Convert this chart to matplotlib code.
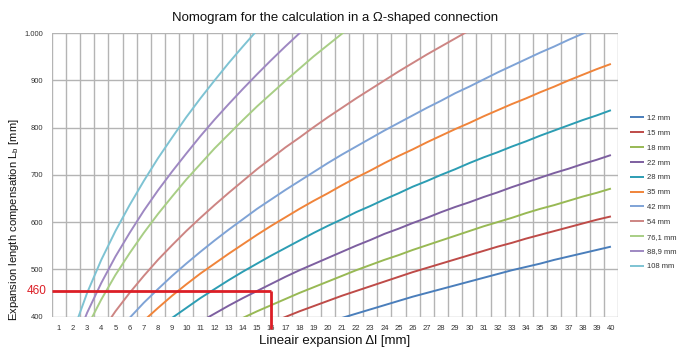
import matplotlib
matplotlib.use("Agg")
import matplotlib.pyplot as plt
from matplotlib import font_manager as fm

names = {f.name for f in fm.fontManager.ttflist}
FAM = ['Liberation Sans Narrow', 'Liberation Sans', 'DejaVu Sans'] if 'Liberation Sans Narrow' in names else ['Liberation Sans', 'DejaVu Sans']
plt.rcParams['font.family'] = FAM

# ---- data ----
x_ticks = list(range(1, 41))
y_ticks = [400, 500, 600, 700, 800, 900, 1000]
y_tick_labels = ["400", "500", "600", "700", "800", "900", "1.000"]

labels = ["12 mm", "15 mm", "18 mm", "22 mm", "28 mm", "35 mm", "42 mm",
          "54 mm", "76,1 mm", "88,9 mm", "108 mm"]
colors = ["#4A7EBB", "#BE4B48", "#98B954", "#7D5FA0", "#2C9DB3", "#F0843A",
          "#7FA3D6", "#CD8583", "#A8CE85", "#9E88C2", "#7EC3D3"]

# first x value of each series, then the values at consecutive integer x
start_12 = 20
vals_12 = [387, 397, 406, 415, 424, 433, 442, 450, 458, 466, 474, 482, 490, 498,
           505, 512, 520, 527, 534, 541, 548]
start_15 = 16
vals_15 = [387, 399, 411, 422, 433, 444, 454, 464, 474, 484, 494, 503, 512, 521,
           530, 539, 548, 556, 565, 573, 581, 589, 597, 605, 612]
start_18 = 13
vals_18 = [382, 397, 411, 424, 437, 450, 462, 474, 486, 498, 509, 520, 530, 541,
           551, 561, 571, 581, 591, 600, 609, 619, 628, 636, 645, 654, 662, 671]
start_22 = 11
vals_22 = [389, 406, 423, 439, 454, 469, 484, 498, 511, 524, 537, 550, 562, 575,
           586, 598, 609, 621, 632, 642, 653, 663, 674, 684, 694, 704, 713, 723,
           732, 742]
start_28 = 8
vals_28 = [374, 397, 418, 439, 458, 477, 495, 512, 529, 545, 561, 577, 592, 606,
           621, 634, 648, 661, 675, 687, 700, 712, 725, 737, 748, 760, 771, 783,
           794, 805, 816, 826, 837]
start_35 = 6
vals_35 = [362, 391, 418, 444, 468, 491, 512, 533, 553, 573, 592, 610, 628, 645,
           661, 678, 694, 709, 725, 740, 754, 769, 783, 797, 810, 824, 837, 850,
           862, 875, 887, 900, 912, 924, 935]
start_42 = 5
vals_42 = [362, 397, 429, 458, 486, 512, 537, 561, 584, 606, 628, 648, 668, 687,
           706, 725, 743, 760, 777, 794, 810, 826, 842, 857, 873, 887, 902, 917,
           931, 945, 959, 972, 986, 999, 1012, 1025]
start_54 = 4
vals_54 = [367, 411, 450, 486, 520, 551, 581, 609, 636, 662, 687, 712, 735, 758,
           779, 801, 822, 842, 862, 881, 900, 919, 937, 955, 972, 989, 1006, 1023]
start_76 = 2
vals_76 = [308, 378, 436, 488, 534, 577, 617, 654, 690, 723, 756, 786, 816, 845,
           872, 899, 925, 951, 975, 999, 1023]
start_89 = 2
vals_89 = [333, 408, 471, 527, 577, 624, 667, 707, 745, 782, 817, 850, 882, 913,
           943, 972, 1000, 1028]
start_108 = 2
vals_108 = [367, 450, 520, 581, 636, 687, 735, 779, 822, 862, 900, 937, 972,
            1006, 1039]

starts = [start_12, start_15, start_18, start_22, start_28, start_35, start_42,
          start_54, start_76, start_89, start_108]
series = [vals_12, vals_15, vals_18, vals_22, vals_28, vals_35, vals_42,
          vals_54, vals_76, vals_89, vals_108]

mark_x = 16
mark_y = 453
mark_label = "460"

# ---- figure ----
fig = plt.figure(figsize=(6.78, 3.5), dpi=100)
ax = fig.add_axes([0.0763, 0.0957, 0.9115 - 0.0763, 0.905 - 0.0957])
ax.set_xlim(0.5, 40.5)
ax.set_ylim(400, 1000)

grid_c = "#B4B4B4"
for gx in range(0, 41):
    ax.axvline(gx + 0.5, color=grid_c, lw=1.0, zorder=1)
for gy in y_ticks:
    ax.axhline(gy, color=grid_c, lw=1.0, zorder=1)
for s in ax.spines.values():
    s.set_visible(False)

for st, v, c, lab in zip(starts, series, colors, labels):
    xs = list(range(st, st + len(v)))
    ax.plot(xs, v, color=c, lw=1.4, label=lab, zorder=3, solid_capstyle='butt')

ax.set_xticks(x_ticks)
ax.set_xticklabels([str(t) for t in x_ticks])
ax.set_yticks(y_ticks)
ax.set_yticklabels(y_tick_labels)
ax.tick_params(axis='both', length=0, labelsize=5.5, colors="#333333")
ax.tick_params(axis='x', pad=6)
ax.tick_params(axis='y', pad=6)

# red marker lines
red = "#DC1E26"
ax.plot([0.5, mark_x], [mark_y, mark_y], color=red, lw=2.0, zorder=4,
        solid_capstyle='butt', clip_on=False)
ax.plot([mark_x, mark_x], [mark_y + 2, 374], color=red, lw=2.0, zorder=4,
        solid_capstyle='butt', clip_on=False)
ax.text(0.17, mark_y, mark_label, color=red, fontsize=8.5, ha='right',
        va='center', transform=ax.transData, clip_on=False)

ax.set_title("Nomogram for the calculation in a \u03a9-shaped connection",
             fontsize=9.5, pad=9, color="#111111")
ax.set_xlabel("Lineair expansion \u0394l [mm]", fontsize=9.5, labelpad=2,
              color="#111111")
ax.set_ylabel("Expansion length compensation L$_\\mathregular{b}$ [mm]",
              fontsize=8.1, color="#111111")
ax.yaxis.set_label_coords(-0.055, 0.344)

fig.legend(loc='center left', bbox_to_anchor=(0.929, 0.45), frameon=False,
           fontsize=5.5, handlelength=1.9, handletextpad=0.35,
           labelspacing=0.98, borderpad=0, borderaxespad=0,
           labelcolor="#333333")

fig.savefig("out.png", dpi=100)
